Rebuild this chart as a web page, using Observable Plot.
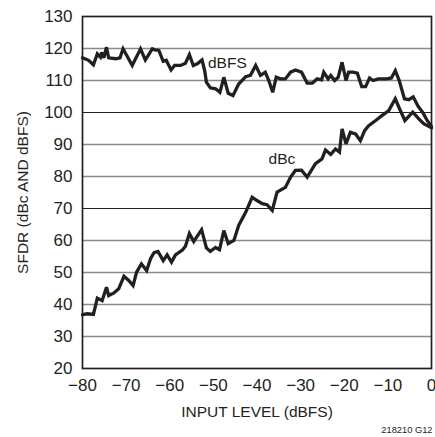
<!DOCTYPE html>
<html>
<head>
<meta charset="utf-8">
<script src="https://cdn.jsdelivr.net/npm/d3@7"></script>
<script src="https://cdn.jsdelivr.net/npm/@observablehq/plot@0.6"></script>
<style>
  html, body { margin: 0; padding: 0; background: #fff; }
  #chart svg { display: block; }
</style>
</head>
<body>
<div id="chart"></div>
<script>
// Input level (dBFS) and SFDR readings
const dbfsX = [-80, -78.6, -77.5, -76.6, -75.9, -75.6, -75.1, -74.5, -74, -72.4, -71.4, -70.7, -68.6, -66.7, -65.6, -64, -63.4, -62.5, -61.5, -60.8, -59.7, -58.9, -57.5, -56.4, -55.5, -54.6, -53.7, -52.6, -52, -51.6, -50.7, -49.5, -48.5, -47.6, -46.6, -45.5, -44.2, -42.6, -41.5, -40.3, -39.2, -38.1, -37.3, -36.4, -35.6, -34.6, -33.5, -32.3, -31.2, -29.8, -28.5, -27.3, -26.2, -25.2, -24.7, -23.7, -23.1, -22.2, -21.4, -20.5, -19.6, -19, -18, -17, -16, -15.1, -14.2, -13.4, -12.2, -11.3, -10.2, -9.2, -8.3, -7.4, -6.2, -5.2, -4.2, -3.1, -1.9, -1, 0];
const dbfsY = [117.1, 116.3, 114.9, 118.3, 117.3, 118.8, 117.1, 120.4, 117.1, 116.8, 117.1, 119.9, 114.7, 119.9, 116.4, 119.9, 119.6, 119.4, 116, 116.3, 113.3, 114.7, 114.7, 115.4, 118.1, 114.7, 115.2, 116.4, 113.1, 109.5, 107.7, 107.4, 106.3, 111, 106, 105.3, 108.9, 111.2, 111.6, 114.7, 111.6, 112.6, 110, 106.3, 111, 110.5, 110.5, 112.6, 113.3, 112.6, 109.2, 109.2, 110.5, 110.2, 112.6, 110.5, 111.6, 110, 111, 115.7, 110, 112.6, 112.6, 112.3, 108.1, 108.1, 110.8, 110, 110.5, 110.5, 110.5, 110.8, 113.1, 110, 104.3, 104, 104.9, 102, 99.8, 97.5, 95.6];

const dbcX = [-80, -78.9, -77.5, -76.6, -75.5, -74.5, -74, -72.8, -71.7, -70.5, -69.4, -68.4, -67.6, -66.5, -65.3, -64.4, -63.6, -62.7, -61.5, -60.6, -59.6, -58.7, -57.1, -56.4, -55.5, -54.5, -52.7, -51.6, -50.7, -49.5, -48.6, -47.6, -46.6, -45.3, -44.2, -42.6, -41.1, -40, -38.8, -37.7, -36.5, -35.4, -33.5, -32.3, -31.2, -29.8, -28.5, -26.6, -25.1, -24.3, -23.1, -22, -21.1, -20.5, -19.6, -18.6, -17.4, -16.3, -15.3, -14.4, -12.8, -11.3, -9.8, -8.3, -7.3, -6.1, -4.3, -2.9, -1.8, 0];
const dbcY = [36.8, 37.1, 36.9, 42, 41.2, 45.4, 42.8, 43.6, 44.9, 48.8, 47.5, 45.9, 50.1, 52.7, 50.6, 54.3, 56.2, 56.6, 53.7, 55.5, 53.2, 55.5, 57, 58.2, 62.2, 59.7, 63.4, 57.7, 56.6, 57.8, 57.1, 63.1, 59, 60, 64.7, 68.8, 73.5, 72.5, 71.5, 71.2, 69.4, 75.1, 76.6, 79.8, 81.9, 82, 79.8, 84, 85.5, 88.3, 86.9, 88.6, 87.6, 94.9, 90.2, 93.8, 93.3, 91.2, 94.4, 95.9, 97.5, 99.1, 100.6, 104.3, 101.1, 97.5, 100.1, 98, 96.5, 95.2];

const xTicks = [-80, -70, -60, -50, -40, -30, -20, -10, 0];
const yTicks = [20, 30, 40, 50, 60, 70, 80, 90, 100, 110, 120, 130];
const gridLight = [30, 40, 50, 60, 80, 90, 110, 120];
const gridDark = [70, 100];

const seriesNames = ["dBFS", "dBc"];
const labelX = [-46.8, -34.3];
const labelY = [115.6, 85.6];

const xTitle = "INPUT LEVEL (dBFS)";
const yTitle = "SFDR (dBc AND dBFS)";
const figCode = "218210 G12";

const font = "'Liberation Sans', Arial, sans-serif";

const chart = Plot.plot({
  width: 435,
  height: 437,
  marginLeft: 82,
  marginRight: 4,
  marginTop: 16,
  marginBottom: 69,
  x: { domain: [-80, 0] },
  y: { domain: [20, 130] },
  style: { fontFamily: font, fontSize: "17px", color: "#231f20", background: "#fff", overflow: "visible" },
  marks: [
    Plot.ruleY(gridLight, { stroke: "#8a8a8a", strokeWidth: 1.3 }),
    Plot.ruleY(gridDark, { stroke: "#231f20", strokeWidth: 1.1 }),
    Plot.frame({ stroke: "#231f20", strokeWidth: 1.7 }),
    Plot.line(dbfsX.map((x, i) => ({ x, y: dbfsY[i] })), { x: "x", y: "y", stroke: "#231f20", strokeWidth: 3.3, strokeLinejoin: "miter", strokeMiterlimit: 3 }),
    Plot.line(dbcX.map((x, i) => ({ x, y: dbcY[i] })), { x: "x", y: "y", stroke: "#231f20", strokeWidth: 3.3, strokeLinejoin: "miter", strokeMiterlimit: 3 }),
    Plot.text(seriesNames.map((t, i) => ({ t, x: labelX[i], y: labelY[i] })), { x: "x", y: "y", text: "t", fontSize: 15.5, fill: "#231f20" }),
    Plot.axisX({ ticks: xTicks, tickSize: 0, tickPadding: 10, label: null, fontSize: 17 }),
    Plot.axisY({ ticks: yTicks, tickSize: 0, tickPadding: 10, label: null, fontSize: 17 }),
    Plot.text([xTitle], { frameAnchor: "bottom", textAnchor: "middle", dy: 43.5, lineAnchor: "middle", fontSize: 15.5, fill: "#231f20" }),
    Plot.text([yTitle], { frameAnchor: "left", textAnchor: "middle", dx: -59, rotate: -90, lineAnchor: "middle", fontSize: 15.5, fill: "#231f20" }),
    Plot.text([figCode], { frameAnchor: "bottom-right", textAnchor: "end", dy: 62, dx: 1, lineAnchor: "middle", fontSize: 9.3, fill: "#231f20" })
  ]
});
document.getElementById("chart").append(chart);
</script>
</body>
</html>
